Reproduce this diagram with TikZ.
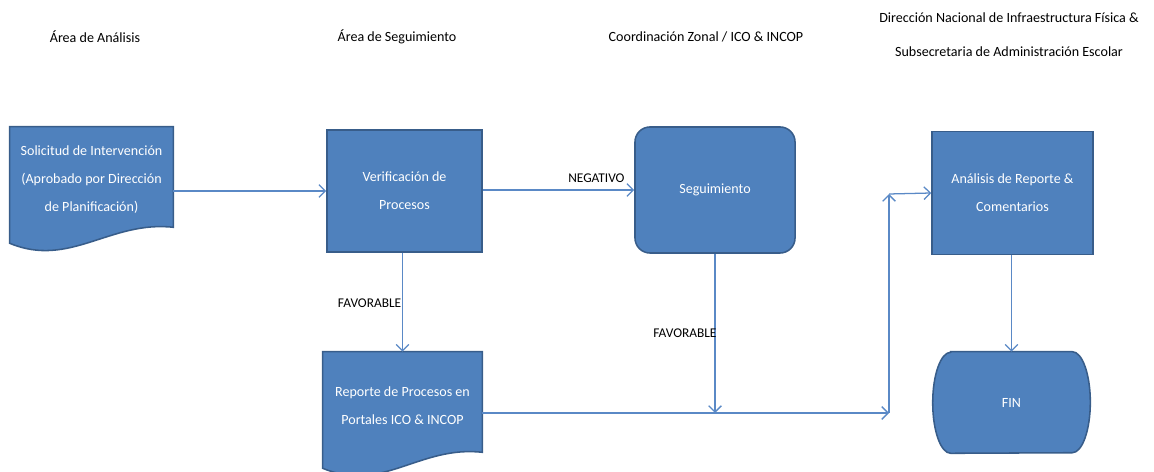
\documentclass[tikz,border=0pt]{standalone}
\usepackage{fontspec}
\setmainfont{Carlito}
\usetikzlibrary{arrows.meta,backgrounds}
\definecolor{boxblue}{RGB}{79,129,189}
\definecolor{boxedge}{RGB}{56,93,138}
\definecolor{flowblue}{RGB}{90,137,198}

\begin{document}
\begin{tikzpicture}[x=0.025cm,y=0.025cm,
  blk/.style={text=white, font=\fontsize{10}{19.9}\selectfont, align=center, inner sep=0pt},
  blkfill/.style={fill=boxblue, draw=boxedge, line width=1.1pt},
  flow/.style={draw=flowblue, line width=0.9pt, -{Straight Barb[length=4.5pt,width=9pt]}},
  lbl/.style={font=\fontsize{9.5}{11}\selectfont, text=black},
  area/.style={font=\fontsize{10}{24.2}\selectfont, align=center}]
\useasboundingbox (0,0) rectangle (1154,472);

\node[area] (h1) at (95,435) {Área de Análisis};
\node[area] (h2) at (397,435) {Área de Seguimiento};
\node[area] (h3) at (706,435) {Coordinación Zonal / ICO \& INCOP};
\node[area] (h4) at (1009,437) {Dirección Nacional de Infraestructura Física \&\\Subsecretaria de Administración Escolar};

\node[blk, minimum width=4.075cm, minimum height=2.65cm] (sol) at (91.5,292) {Solicitud de Intervención\\(Aprobado por Dirección\\de Planificación)};
\node[blk, blkfill, minimum width=3.875cm, minimum height=3.05cm] (ver) at (404.5,281) {Verificación de\\Procesos};
\node[blk, blkfill, rounded corners=0.375cm, minimum width=4cm, minimum height=3.15cm] (seg) at (715,282) {Seguimiento};
\node[blk, blkfill, minimum width=4.025cm, minimum height=3.075cm] (ana) at (1012.5,279) {Análisis de Reporte \&\\Comentarios};
\node[blk, minimum width=3.975cm, minimum height=2.7cm] (rep) at (402.5,66) {Reporte de Procesos en\\Portales ICO \& INCOP};
\node[blk, minimum width=3.925cm, minimum height=2.525cm] (fin) at (1011.5,69.5) {FIN};

\begin{scope}[on background layer]
\filldraw[blkfill] (sol.north west) -- (sol.north east) -- ([yshift=0.15cm]sol.south east)
  .. controls +(-1.575cm,0.175cm) and +(1.5cm,-0.625cm) .. ([yshift=-0.25cm]sol.south west) -- cycle;
\filldraw[blkfill] (rep.north west) -- (rep.north east) -- ([yshift=0.2cm]rep.south east)
  .. controls +(-1.575cm,0.175cm) and +(1.5cm,-0.625cm) .. ([yshift=-0.2cm]rep.south west) -- cycle;
\filldraw[blkfill] ([xshift=0.45cm]fin.north west) -- ([xshift=-0.45cm]fin.north east)
  arc[start angle=90, end angle=-90, x radius=0.45cm, y radius=1.2625cm]
  -- ([xshift=0.45cm]fin.south west)
  arc[start angle=270, end angle=90, x radius=0.45cm, y radius=1.2625cm] -- cycle;
\end{scope}

\coordinate (jn) at (889,59);
\coordinate (up) at (889,278);

\draw[flow] (ver.west -| sol.east) -- (ver.west);
\draw[flow] (ver.east |- seg.west) -- node[lbl, pos=0.94, anchor=south east, inner sep=0pt, yshift=5pt] {NEGATIVO} (seg.west);
\draw[flow] (ver.south -| rep.north) -- node[lbl, pos=0.51, left, inner sep=0.5pt] {FAVORABLE} (rep.north);
\draw[flow] (seg.south) -- node[lbl, pos=0.5, left, inner sep=0pt, xshift=1.5pt] {FAVORABLE} (seg.south |- jn);
\draw[flow] (rep.east |- jn) -- (jn);
\draw[flow] (jn) -- (up);
\draw[flow] (up) -- (ana.west);
\draw[flow] (ana.south -| fin.north) -- (fin.north);

\end{tikzpicture}
\end{document}
